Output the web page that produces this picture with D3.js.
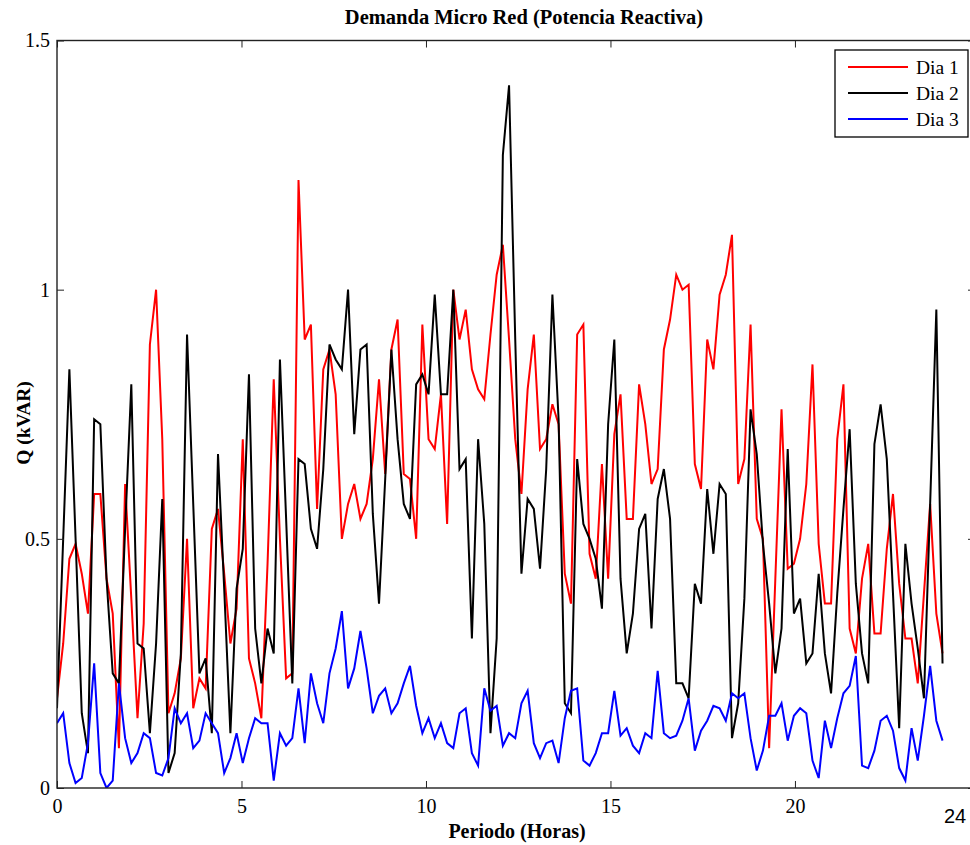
<!DOCTYPE html>
<html>
<head>
<meta charset="utf-8">
<script src="https://cdn.jsdelivr.net/npm/d3@7"></script>
<style>
  body { margin: 0; background: #fff; overflow: hidden; }
  svg { font-family: "Liberation Serif", "Times New Roman", serif; display: block; }
</style>
</head>
<body>
<div id="vis"></div>
<script>
// Values (10-minute steps, 144 samples over 24 h)
var dia1 = [0.18,0.29,0.46,0.49,0.43,0.35,0.59,0.59,0.42,0.35,0.08,0.61,0.38,0.14,0.33,0.89,1.0,0.7,0.15,0.19,
  0.26,0.50,0.16,0.22,0.20,0.52,0.56,0.43,0.29,0.36,0.70,0.26,0.21,0.14,0.45,0.82,0.50,0.22,0.23,1.22,
  0.90,0.93,0.56,0.84,0.88,0.79,0.50,0.57,0.61,0.54,0.57,0.66,0.82,0.63,0.88,0.94,0.63,0.62,0.50,0.93,
  0.70,0.68,0.79,0.53,1.0,0.90,0.96,0.84,0.80,0.78,0.91,1.03,1.09,0.90,0.70,0.59,0.80,0.91,0.68,0.70,
  0.77,0.73,0.43,0.37,0.91,0.93,0.47,0.42,0.65,0.42,0.71,0.79,0.54,0.54,0.81,0.73,0.61,0.64,0.88,0.94,
  1.03,1.0,1.01,0.65,0.60,0.90,0.84,0.99,1.03,1.11,0.61,0.66,0.93,0.54,0.50,0.08,0.42,0.76,0.44,0.45,
  0.50,0.61,0.85,0.49,0.37,0.37,0.70,0.81,0.32,0.27,0.42,0.49,0.31,0.31,0.48,0.59,0.41,0.30,0.30,0.21,
  0.39,0.57,0.35,0.27];
var dia2 = [0.16,0.50,0.84,0.50,0.15,0.07,0.74,0.73,0.42,0.23,0.21,0.52,0.81,0.29,0.28,0.11,0.29,0.58,0.03,0.07,
  0.27,0.91,0.57,0.23,0.26,0.11,0.67,0.40,0.11,0.40,0.48,0.83,0.32,0.21,0.32,0.27,0.86,0.54,0.21,0.66,
  0.65,0.52,0.48,0.64,0.89,0.86,0.84,1.0,0.71,0.88,0.89,0.55,0.37,0.62,0.88,0.70,0.57,0.54,0.81,0.83,
  0.79,0.99,0.79,0.79,1.0,0.64,0.66,0.30,0.70,0.53,0.11,0.30,1.27,1.41,0.90,0.43,0.58,0.56,0.44,0.64,
  0.99,0.74,0.17,0.15,0.66,0.53,0.50,0.46,0.36,0.73,0.90,0.42,0.27,0.35,0.52,0.55,0.32,0.58,0.64,0.54,
  0.21,0.21,0.18,0.41,0.37,0.60,0.47,0.61,0.59,0.10,0.17,0.38,0.76,0.67,0.49,0.37,0.23,0.32,0.68,0.35,
  0.38,0.25,0.27,0.43,0.27,0.19,0.39,0.56,0.72,0.41,0.27,0.21,0.69,0.77,0.66,0.39,0.12,0.49,0.37,0.28,
  0.18,0.57,0.96,0.25];
var dia3 = [0.13,0.15,0.05,0.01,0.02,0.09,0.25,0.03,0.0,0.015,0.21,0.10,0.05,0.07,0.11,0.10,0.03,0.025,0.06,0.16,
  0.13,0.15,0.08,0.095,0.15,0.13,0.11,0.03,0.06,0.11,0.05,0.10,0.14,0.13,0.13,0.015,0.11,0.085,0.10,0.20,
  0.09,0.23,0.17,0.13,0.23,0.28,0.355,0.20,0.24,0.315,0.24,0.15,0.185,0.20,0.15,0.17,0.21,0.245,0.165,0.11,
  0.14,0.10,0.13,0.09,0.08,0.15,0.16,0.07,0.045,0.20,0.155,0.165,0.085,0.11,0.10,0.17,0.195,0.09,0.06,0.09,
  0.095,0.05,0.14,0.195,0.20,0.055,0.045,0.07,0.11,0.11,0.195,0.105,0.12,0.085,0.07,0.11,0.10,0.235,0.11,0.10,
  0.105,0.135,0.18,0.075,0.115,0.135,0.165,0.16,0.135,0.19,0.18,0.19,0.10,0.035,0.075,0.145,0.145,0.17,0.095,0.145,
  0.16,0.15,0.055,0.02,0.135,0.08,0.14,0.19,0.205,0.265,0.045,0.04,0.075,0.135,0.145,0.115,0.04,0.015,0.12,0.055,
  0.145,0.245,0.135,0.095];

var seriesNames = ["Dia 1", "Dia 2", "Dia 3"];
var seriesColors = ["#ff0000", "#000000", "#0000ff"];
var xTicks = [0, 5, 10, 15, 20];
var yTicks = [0, 0.5, 1, 1.5];

var width = 970, height = 845;
// right edge of the axes box falls just outside the picture (cropped)
var plotLeft = 57, plotTop = 40.5, plotRight = 975, plotBottom = 788;

var svg = d3.select("#vis").append("svg")
    .attr("width", width)
    .attr("height", height);

var x = d3.scaleLinear().domain([0, 24.88]).range([plotLeft, plotRight]);
var y = d3.scaleLinear().domain([0, 1.5]).range([plotBottom, plotTop]);

// sample times: 0..24 h
var hours = dia1.map(function(d, i) { return i * 24 / (dia1.length - 1); });

svg.append("defs").append("clipPath").attr("id", "plotClip")
  .append("rect").attr("x", plotLeft).attr("y", plotTop)
  .attr("width", plotRight - plotLeft).attr("height", plotBottom - plotTop);

// Lines
var line = d3.line()
    .x(function(d, i) { return x(hours[i]); })
    .y(function(d) { return y(d); });

var allSeries = [dia1, dia2, dia3];
svg.append("g").attr("clip-path", "url(#plotClip)")
  .selectAll("path")
  .data(allSeries)
  .enter().append("path")
  .attr("d", line)
  .attr("fill", "none")
  .attr("stroke", function(d, i) { return seriesColors[i]; })
  .attr("stroke-width", 2)
  .attr("stroke-linejoin", "miter");

// Axes (MATLAB style: inward ticks on all sides)
function styleAxis(g) {
  g.select(".domain").remove();
  g.selectAll(".tick line").attr("stroke", "#222").attr("stroke-width", 1);
  g.selectAll(".tick text").attr("font-size", 20).attr("fill", "#000")
    .attr("font-family", "Liberation Serif, serif");
}

svg.append("g")
  .attr("transform", "translate(0," + plotBottom + ")")
  .call(d3.axisBottom(x).tickValues(xTicks).tickFormat(d3.format("d"))
    .tickSizeInner(-7).tickSizeOuter(0).tickPadding(11))
  .call(styleAxis);

svg.append("g")
  .attr("transform", "translate(0," + plotTop + ")")
  .call(d3.axisTop(x).tickValues(xTicks).tickFormat("")
    .tickSizeInner(-7).tickSizeOuter(0))
  .call(styleAxis);

svg.append("g")
  .attr("transform", "translate(" + plotLeft + ",0)")
  .call(d3.axisLeft(y).tickValues(yTicks).tickFormat(function(d) { return d; })
    .tickSizeInner(-7).tickSizeOuter(0).tickPadding(7))
  .call(styleAxis);

svg.append("g")
  .attr("transform", "translate(" + plotRight + ",0)")
  .call(d3.axisRight(y).tickValues(yTicks).tickFormat("")
    .tickSizeInner(-7).tickSizeOuter(0))
  .call(styleAxis);

// Frame
svg.append("rect")
  .attr("x", plotLeft).attr("y", plotTop)
  .attr("width", plotRight - plotLeft).attr("height", plotBottom - plotTop)
  .attr("fill", "none").attr("stroke", "#222").attr("stroke-width", 1.4);

// Extra "24" label (sans, as in the picture)
svg.append("text")
  .attr("x", 955).attr("y", 823)
  .attr("text-anchor", "middle")
  .attr("font-family", "Liberation Sans, Arial, sans-serif")
  .attr("font-size", 20)
  .text("24");

// Titles
svg.append("text")
  .attr("x", 524).attr("y", 24)
  .attr("text-anchor", "middle")
  .attr("font-weight", "bold").attr("font-size", 20.5)
  .text("Demanda Micro Red (Potencia Reactiva)");

svg.append("text")
  .attr("x", 517).attr("y", 838)
  .attr("text-anchor", "middle")
  .attr("font-weight", "bold").attr("font-size", 20)
  .text("Periodo (Horas)");

svg.append("text")
  .attr("transform", "translate(30,423) rotate(-90)")
  .attr("text-anchor", "middle")
  .attr("font-weight", "bold").attr("font-size", 19.5)
  .text("Q (kVAR)");

// Legend
var legend = svg.append("g").attr("transform", "translate(835,50)");
legend.append("rect")
  .attr("width", 133).attr("height", 87)
  .attr("fill", "#fff").attr("stroke", "#000").attr("stroke-width", 1.3);

var items = legend.selectAll("g.item")
  .data(seriesNames)
  .enter().append("g")
  .attr("class", "item")
  .attr("transform", function(d, i) { return "translate(0," + (17 + i * 26) + ")"; });

items.append("line")
  .attr("x1", 13).attr("x2", 73)
  .attr("stroke", function(d, i) { return seriesColors[i]; })
  .attr("stroke-width", 2);

items.append("text")
  .attr("x", 81).attr("y", 6.5)
  .attr("font-size", 19.5)
  .text(function(d) { return d; });
</script>
</body>
</html>
